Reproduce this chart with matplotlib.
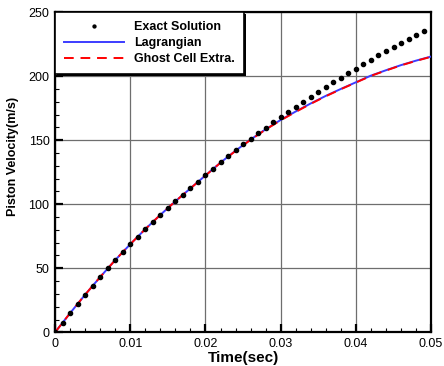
import matplotlib
matplotlib.use("Agg")
import matplotlib.pyplot as plt
import matplotlib.patheffects as pe
from matplotlib.ticker import MultipleLocator

t_exact = [0.000, 0.001, 0.002, 0.003, 0.004, 0.005, 0.006, 0.007, 0.008, 0.009,
           0.010, 0.011, 0.012, 0.013, 0.014, 0.015, 0.016, 0.017, 0.018, 0.019,
           0.020, 0.021, 0.022, 0.023, 0.024, 0.025, 0.026, 0.027, 0.028, 0.029,
           0.030, 0.031, 0.032, 0.033, 0.034, 0.035, 0.036, 0.037, 0.038, 0.039,
           0.040, 0.041, 0.042, 0.043, 0.044, 0.045, 0.046, 0.047, 0.048, 0.049]
v_exact = [0.0, 7.6, 15.0, 22.3, 29.4, 36.4, 43.3, 50.0, 56.5, 62.9,
           68.9, 74.8, 80.6, 86.3, 91.8, 97.2, 102.4, 107.5, 112.5, 117.4,
           122.6, 127.8, 132.8, 137.7, 142.4, 146.8, 151.3, 155.5, 159.8, 164.0,
           168.0, 171.9, 175.8, 179.8, 183.7, 187.6, 191.4, 195.2, 198.8, 202.4,
           205.9, 209.5, 212.8, 216.2, 219.5, 222.8, 226.0, 229.2, 232.4, 235.5]

# numerical results (Lagrangian and ghost cell extrapolation nearly coincide)
t_num = [0.000, 0.002, 0.004, 0.006, 0.008, 0.010, 0.012, 0.014, 0.016, 0.018,
         0.020, 0.022, 0.024, 0.026, 0.028, 0.030, 0.032, 0.034, 0.036, 0.038,
         0.040, 0.042, 0.044, 0.046, 0.048, 0.050]
v_lag = [0.0, 15.0, 29.4, 43.2, 56.4, 68.8, 80.6, 91.7, 102.3, 112.4,
         122.5, 132.5, 141.8, 150.5, 158.5, 165.8, 172.4, 178.7, 184.6, 190.0,
         195.2, 200.4, 204.6, 208.6, 212.1, 215.3]
v_ghost = [0.0, 15.0, 29.4, 43.2, 56.4, 68.8, 80.6, 91.7, 102.3, 112.4,
           122.4, 132.4, 141.6, 150.3, 158.3, 165.5, 172.1, 178.4, 184.3, 189.8,
           195.0, 200.2, 204.4, 208.4, 211.9, 215.1]

x_ticks = [0, 0.01, 0.02, 0.03, 0.04, 0.05]
x_labels = ["0", "0.01", "0.02", "0.03", "0.04", "0.05"]
y_ticks = [0, 50, 100, 150, 200, 250]

plt.rcParams["font.family"] = ["Liberation Sans", "DejaVu Sans"]

fig = plt.figure(figsize=(4.44, 3.66), dpi=100)
ax = fig.add_axes([0.124, 0.092, 0.847, 0.875])

ax.plot(t_num, v_lag, color="#3c3cff", lw=1.4, label="Lagrangian", zorder=3)
ax.plot(t_num, v_ghost, color="#ff0000", lw=1.4, ls=(0, (5, 3.5)),
        label="Ghost Cell Extra.", zorder=4)
ax.plot(t_exact, v_exact, ls="none", marker="o", ms=3.0, color="black",
        label="Exact Solution", zorder=5)

ax.set_xlim(0, 0.05)
ax.set_ylim(0, 250)
ax.set_xticks(x_ticks, x_labels)
ax.set_yticks(y_ticks, [str(v) for v in y_ticks])
ax.xaxis.set_minor_locator(MultipleLocator(0.002))
ax.yaxis.set_minor_locator(MultipleLocator(10))
ax.tick_params(which="major", direction="in", length=6, width=1.6,
               labelsize=9, pad=4, top=False, right=False)
ax.tick_params(which="minor", direction="in", length=3, width=0.8,
               top=False, right=False)
for s in ax.spines.values():
    s.set_linewidth(1.6)
ax.grid(True, which="major", color="#6e6e6e", lw=0.9)
ax.set_axisbelow(True)

ax.set_xlabel("Time(sec)", fontsize=11, fontweight="bold", labelpad=1)
ax.set_ylabel("Piston Velocity(m/s)", fontsize=9, fontweight="bold")
ax.yaxis.set_label_coords(-0.095, 0.55)

h, l = ax.get_legend_handles_labels()
order = [2, 0, 1]
leg = ax.legend([h[i] for i in order], [l[i] for i in order],
                loc="upper left", bbox_to_anchor=(0, 1), borderaxespad=0,
                numpoints=1, markerscale=0.7, handlelength=4.8, handletextpad=0.75,
                labelspacing=0.3, borderpad=0.75, fancybox=False,
                prop={"weight": "bold", "size": 9})
frame = leg.get_frame()
frame.set_edgecolor("black")
frame.set_linewidth(1.2)
frame.set_alpha(1)
frame.set_path_effects([pe.SimplePatchShadow(offset=(1.2, -1.2), shadow_rgbFace="black", alpha=1),
                        pe.Normal()])

fig.savefig("out.png", dpi=100)
